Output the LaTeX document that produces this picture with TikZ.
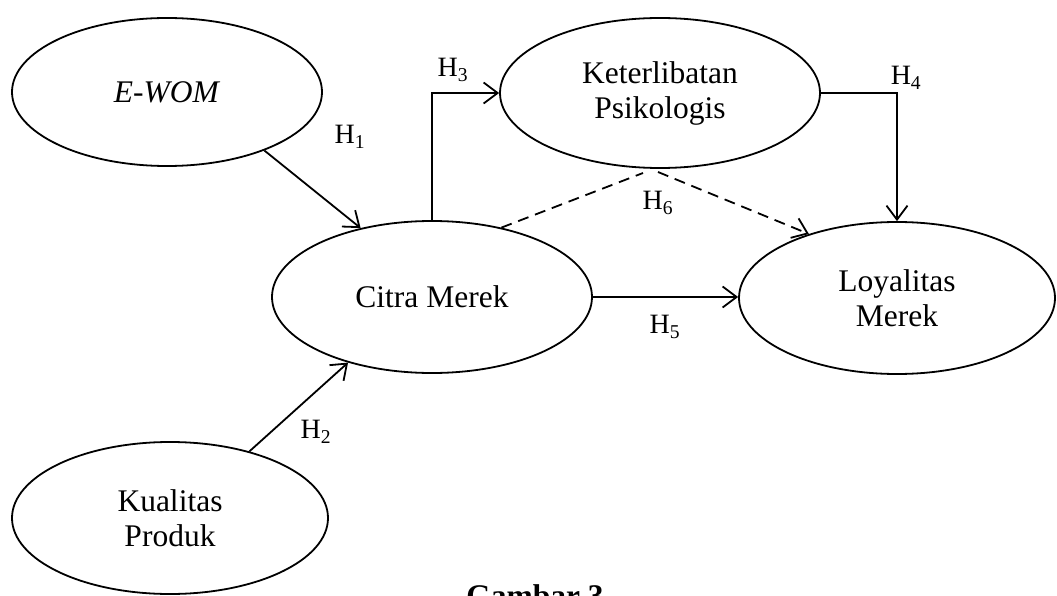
\documentclass[tikz,border=0pt]{standalone}
\usepackage{fontspec}
\setmainfont{Liberation Serif}
\usetikzlibrary{shapes.geometric,arrows.meta}
\begin{document}
\begin{tikzpicture}[x=1pt,y=-1pt,
  var/.style={draw,ellipse,line width=1.8pt,inner sep=0pt,align=center,
    font=\fontsize{31.5}{35}\selectfont},
  conn/.style={line width=1.8pt,-{Straight Barb[length=14pt,width=21pt,line width=1.8pt]}},
  dashconn/.style={line width=1.8pt,dashed,dash pattern=on 11pt off 7pt},
  hlab/.style={font=\fontsize{28}{30}\selectfont,inner sep=0pt}]
\useasboundingbox (0,0) rectangle (1057,596);
\node[var,minimum width=310pt,minimum height=148pt] (ewom) at (167,92) {\textit{E-WOM}};
\node[var,minimum width=316pt,minimum height=152pt] (kual) at (170,518) {Kualitas\\Produk};
\node[var,minimum width=320pt,minimum height=152pt] (citra) at (432,297) {Citra Merek};
\node[var,minimum width=320pt,minimum height=150pt] (ket) at (660,93) {Keterlibatan\\Psikologis};
\node[var,minimum width=316pt,minimum height=152pt] (loy) at (897,298) {Loyalitas\\Merek};

\draw[conn] (ewom.-31) -- (citra.136);
\draw[conn] (kual.40) -- (citra.218);
\draw[conn] (citra.north) |- (ket.west);
\draw[conn] (ket.east) -| (loy.north);
\draw[conn] (citra.east) -- (citra.east -| loy.west);

\coordinate (h6a) at (643,173);
\coordinate (h6b) at (658,172);
\draw[dashconn] (citra.45) -- (h6a);
\draw[dashconn,-{Straight Barb[length=14pt,width=21pt,line width=1.8pt]}] (h6b) -- (loy.144);

\node[hlab] (l1) at (350,137) {H\textsubscript{1}};
\node[hlab] (l2) at (316,432) {H\textsubscript{2}};
\node[hlab] (l3) at (453,70) {H\textsubscript{3}};
\node[hlab] (l4) at (906,78) {H\textsubscript{4}};
\node[hlab] (l5) at (665,327) {H\textsubscript{5}};
\node[hlab] (l6) at (658,203) {H\textsubscript{6}};

\node[anchor=base,inner sep=0pt,font=\fontsize{31.5}{35}\selectfont\bfseries] (cap) at (535,606) {Gambar 3};
\end{tikzpicture}
\end{document}
